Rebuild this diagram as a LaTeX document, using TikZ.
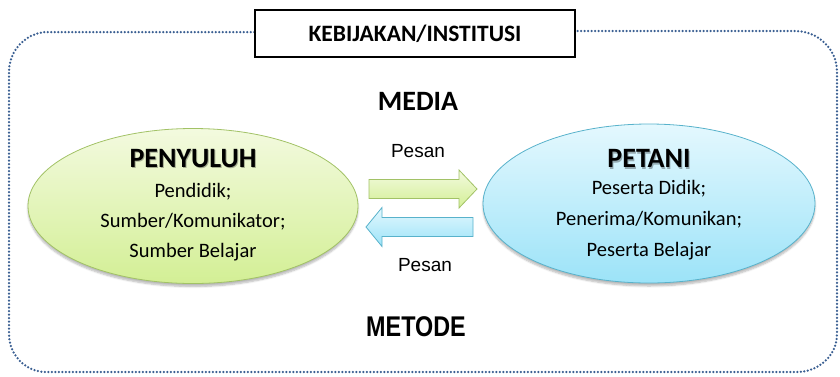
\documentclass[tikz,border=0pt]{standalone}
\usepackage{fontspec}
\setmainfont{Carlito}
\newfontfamily\arialfont{Liberation Sans}
\usetikzlibrary{shapes.geometric,shadows.blur}
\definecolor{frameblue}{HTML}{3A5F92}
\definecolor{greentop}{HTML}{F3FADF}
\definecolor{greenbot}{HTML}{D3EF95}
\definecolor{greenline}{HTML}{A2C266}
\definecolor{bluetop}{HTML}{E4F8FE}
\definecolor{bluebot}{HTML}{9CE3F8}
\definecolor{blueline}{HTML}{58B2CB}
\tikzset{
  frame/.style={draw=frameblue, line width=2.5pt, dash pattern=on 0pt off 3.5pt, line cap=round},
  titlebox/.style={draw=black, line width=1.5pt, fill=white, minimum width=320pt, minimum height=47pt, inner sep=0pt, font=\fontsize{23.5}{26}\selectfont\bfseries},
  actor/.style={ellipse, line width=0.8pt, inner sep=0pt,
    blur shadow={shadow xshift=0pt, shadow yshift=-3pt, shadow blur steps=6, shadow opacity=28}},
  greenfill/.style={draw=greenline, top color=greentop, bottom color=greenbot},
  bluefill/.style={draw=blueline, top color=bluetop, bottom color=bluebot},
  actortitle/.style={font=\fontsize{28}{30}\selectfont\bfseries},
  titleshadow/.style={actortitle, text=black, opacity=0.3},
  actorline/.style={font=\fontsize{20.5}{24}\selectfont},
  greenarrow/.style={draw=greenline, line width=0.8pt, top color=greentop, bottom color=greenbot},
  bluearrow/.style={draw=blueline, line width=0.8pt, top color=bluetop, bottom color=bluebot},
  heading/.style={font=\fontsize{28}{30}\selectfont\bfseries},
  msglabel/.style={font=\arialfont\fontsize{19}{21}\selectfont}
}
\begin{document}
\begin{tikzpicture}[x=1pt,y=-1pt]
  \useasboundingbox (0,0) rectangle (840,376);
  % dotted outer frame, broken by the title box
  \node[titlebox] (title) at (415,33.5) {KEBIJAKAN/INSTITUSI};
  \draw[frame] (title.west |- 0,32) -- (48,32) to[out=180,in=90] (9,72) -- (9,334)
     to[out=-90,in=180] (46,372) -- (797,372) to[out=0,in=-90] (837,334)
     -- (837,72) to[out=90,in=0] (795,31) -- (title.east |- 0,31);
  \node[titlebox] at (415,33.5) {KEBIJAKAN/INSTITUSI};

  \node[heading] (media) at (418,101) {MEDIA};
  \node[font=\arialfont\fontsize{28.5}{30}\selectfont\bfseries, xscale=0.82] (metode) at (416,327) {METODE};

  % the two actors
  \node[actor, greenfill, minimum width=330pt, minimum height=155pt] (penyuluh) at (193,206) {};
  \node[titleshadow] (penyuluhS) at (194,160) {PENYULUH};
  \node[actortitle] (penyuluhT) at (193,158.8) {PENYULUH};
  \node[actorline] (penyuluh1) at (193,192) {Pendidik;};
  \node[actorline] (penyuluh2) at (193,222) {Sumber/Komunikator;};
  \node[actorline] (penyuluh3) at (193,252) {Sumber Belajar};

  \node[actor, bluefill, minimum width=332pt, minimum height=159pt] (petani) at (649,203.5) {};
  \node[titleshadow] (petaniS) at (650,160) {PETANI};
  \node[actortitle] (petaniT) at (649,158.8) {PETANI};
  \node[actorline] (petani1) at (649,189) {Peserta Didik;};
  \node[actorline] (petani2) at (649,220) {Penerima/Komunikan;};
  \node[actorline] (petani3) at (649,251) {Peserta Belajar};

  % message arrows between the actors
  \coordinate (sendR) at (369,189);
  \coordinate (sendL) at (473,227);
  \draw[greenarrow] (sendR) ++(0,-9.5) -- ++(90,0) -- ++(0,-9.5) -- ++(18,19)
     -- ++(-18,19) -- ++(0,-9.5) -- ++(-90,0) -- cycle;
  \draw[bluearrow] (sendL) ++(0,-9.5) -- ++(-91,0) -- ++(0,-10) -- ++(-16,19.5)
     -- ++(16,19.5) -- ++(0,-10) -- ++(91,0) -- cycle;

  \node[msglabel] (pesan1) at (418,151) {Pesan};
  \node[msglabel] (pesan2) at (425,265) {Pesan};
\end{tikzpicture}
\end{document}
